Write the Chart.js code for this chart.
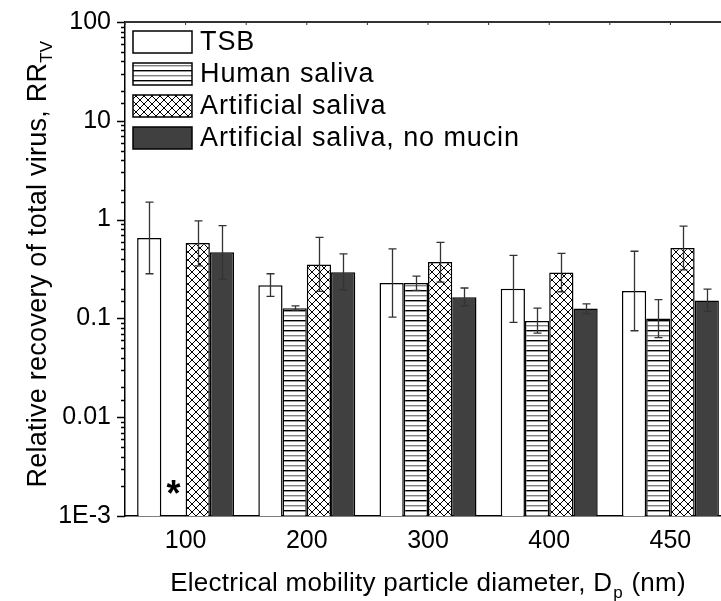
<!DOCTYPE html>
<html>
<head>
<meta charset="utf-8">
<script src="https://cdn.jsdelivr.net/npm/chart.js@4"></script>
<style>
  html, body { margin: 0; padding: 0; background: #fff; overflow: hidden; }
  #wrap { width: 740px; height: 601px; position: relative; }
</style>
</head>
<body>
<div id="wrap"><canvas id="rrChart"></canvas></div>
<script>
const categories = ['100', '200', '300', '400', '450'];

const tsb = [0.65, 0.217, 0.228, 0.2, 0.189];
const tsbLow = [0.283, 0.167, 0.103, 0.091, 0.075];
const tsbHigh = [1.5, 0.283, 0.505, 0.435, 0.478];

const humanSaliva = [null, 0.127, 0.228, 0.094, 0.1];
const humanLow = [null, 0.121, 0.192, 0.071, 0.064];
const humanHigh = [null, 0.134, 0.268, 0.127, 0.155];

const artificialSaliva = [0.58, 0.351, 0.373, 0.292, 0.517];
const artificialLow = [0.34, 0.188, 0.233, 0.186, 0.31];
const artificialHigh = [0.97, 0.66, 0.589, 0.456, 0.86];

const noMucin = [0.467, 0.294, 0.164, 0.126, 0.152];
const noMucinLow = [0.25, 0.194, 0.134, 0.112, 0.118];
const noMucinHigh = [0.87, 0.45, 0.203, 0.14, 0.198];

const yTickValues = [100, 10, 1, 0.1, 0.01, 0.001];
const yTickLabels = ['100', '10', '1', '0.1', '0.01', '1E-3'];

const FONT = "'Liberation Sans', Arial, sans-serif";

function makePattern(draw, w, h) {
    const c = document.createElement('canvas');
    c.width = w;
    c.height = h;
    const g = c.getContext('2d');
    g.fillStyle = '#fff';
    g.fillRect(0, 0, w, h);
    draw(g);
    return g.createPattern(c, 'repeat');
}

const stripes = makePattern(g => {
    g.fillStyle = '#000';
    g.fillRect(0, 0, 10, 1.4);
    g.fillStyle = '#808080';
    g.fillRect(0, 5, 10, 1.4);
}, 10, 10);

const crossHatch = makePattern(g => {
    g.strokeStyle = '#000';
    g.lineWidth = 1;
    g.beginPath();
    g.moveTo(0, 0); g.lineTo(8, 8);
    g.moveTo(8, 0); g.lineTo(0, 8);
    g.moveTo(-1, 7); g.lineTo(1, 9);
    g.moveTo(7, -1); g.lineTo(9, 1);
    g.stroke();
}, 8, 8);

const series = [
    { label: 'TSB', data: tsb, low: tsbLow, high: tsbHigh, fill: '#fff' },
    { label: 'Human saliva', data: humanSaliva, low: humanLow, high: humanHigh, fill: stripes },
    { label: 'Artificial saliva', data: artificialSaliva, low: artificialLow, high: artificialHigh, fill: crossHatch },
    { label: 'Artificial saliva, no mucin', data: noMucin, low: noMucinLow, high: noMucinHigh, fill: '#404040' }
];

function isDecade(v) {
    const l = Math.log10(v);
    return Math.abs(l - Math.round(l)) < 1e-6;
}

const decorPlugin = {
    id: 'decor',
    afterDatasetsDraw(chart) {
        const ctx = chart.ctx;
        const y = chart.scales.y;
        // error bars
        ctx.save();
        ctx.strokeStyle = '#333';
        ctx.lineWidth = 1.3;
        chart.data.datasets.forEach((ds, i) => {
            const meta = chart.getDatasetMeta(i);
            ds.data.forEach((v, j) => {
                if (v == null) return;
                const x = Math.round(meta.data[j].x) + 0.5;
                const yh = y.getPixelForValue(ds.high[j]);
                const yl = y.getPixelForValue(ds.low[j]);
                ctx.beginPath();
                ctx.moveTo(x, yh); ctx.lineTo(x, yl);
                ctx.moveTo(x - 4, yh); ctx.lineTo(x + 4, yh);
                ctx.moveTo(x - 4, yl); ctx.lineTo(x + 4, yl);
                ctx.stroke();
            });
        });
        ctx.restore();
    },
    afterDraw(chart) {
        const ctx = chart.ctx;
        const area = chart.chartArea;
        const y = chart.scales.y;
        const x = chart.scales.x;
        ctx.save();

        // y ticks (outward): long at decades, short otherwise
        ctx.strokeStyle = '#000';
        ctx.lineWidth = 1.5;
        y.ticks.forEach(t => {
            const py = Math.round(y.getPixelForValue(t.value)) + 0.5;
            const len = isDecade(t.value) ? 8 : 4;
            ctx.beginPath();
            ctx.moveTo(area.left - len, py);
            ctx.lineTo(area.left, py);
            ctx.stroke();
        });

        // top frame with small inward ticks
        ctx.strokeStyle = '#333';
        ctx.lineWidth = 2;
        ctx.beginPath();
        ctx.moveTo(area.left, area.top);
        ctx.lineTo(area.right, area.top);
        ctx.stroke();
        ctx.lineWidth = 1;
        const step = x.getPixelForValue(1) - x.getPixelForValue(0);
        categories.forEach((c, i) => {
            const cx = x.getPixelForValue(i);
            [cx - step / 2, cx].forEach(px => {
                ctx.beginPath();
                ctx.moveTo(px, area.top);
                ctx.lineTo(px, area.top + 3);
                ctx.stroke();
            });
        });

        // asterisk for missing human saliva at 100 nm
        const m0 = chart.getDatasetMeta(0).data[0];
        ctx.fillStyle = '#000';
        ctx.font = 'bold 36px ' + FONT;
        ctx.textAlign = 'center';
        ctx.textBaseline = 'middle';
        ctx.fillText('*', m0.x + m0.width, area.bottom - 20);

        // legend
        ctx.font = '27px ' + FONT;
        ctx.letterSpacing = '0.9px';
        ctx.textAlign = 'left';
        ctx.textBaseline = 'middle';
        chart.data.datasets.forEach((ds, i) => {
            const cy = 42 + i * 32;
            ctx.fillStyle = ds.backgroundColor;
            ctx.fillRect(133, cy - 11, 59, 22);
            ctx.strokeStyle = '#000';
            ctx.lineWidth = 1.5;
            ctx.strokeRect(133, cy - 11, 59, 22);
            ctx.fillStyle = '#000';
            ctx.fillText(ds.label, 200, cy + 1);
        });
        ctx.letterSpacing = '0.25px';

        // x axis title with subscript
        const xMain = 'Electrical mobility particle diameter, D';
        const xSub = 'p';
        const xTail = ' (nm)';
        ctx.font = '26px ' + FONT;
        const w1 = ctx.measureText(xMain).width;
        const w3 = ctx.measureText(xTail).width;
        ctx.font = '17px ' + FONT;
        const w2 = ctx.measureText(xSub).width + 2;
        let sx = 428 - (w1 + w2 + w3) / 2;
        const by = 591;
        ctx.textBaseline = 'alphabetic';
        ctx.font = '26px ' + FONT;
        ctx.fillText(xMain, sx, by);
        ctx.font = '17px ' + FONT;
        ctx.fillText(xSub, sx + w1 + 1, by + 7);
        ctx.font = '26px ' + FONT;
        ctx.fillText(xTail, sx + w1 + w2, by);

        // y axis title with subscript (rotated)
        const yMain = 'Relative recovery of total virus, RR';
        const ySub = 'TV';
        ctx.translate(46, 264);
        ctx.rotate(-Math.PI / 2);
        ctx.font = '27px ' + FONT;
        const v1 = ctx.measureText(yMain).width;
        ctx.font = '17px ' + FONT;
        const v2 = ctx.measureText(ySub).width;
        const ty = -(v1 + v2) / 2;
        ctx.font = '27px ' + FONT;
        ctx.fillText(yMain, ty, 0);
        ctx.font = '17px ' + FONT;
        ctx.fillText(ySub, ty + v1, 6);

        ctx.restore();
    }
};

function drawChart() {
    const ctx = document.getElementById('rrChart').getContext('2d');
    new Chart(ctx, {
        type: 'bar',
        data: {
            labels: categories,
            datasets: series.map(s => ({
                label: s.label,
                data: s.data,
                low: s.low,
                high: s.high,
                backgroundColor: s.fill,
                borderColor: '#000',
                borderWidth: 1.5,
                categoryPercentage: 0.8,
                barPercentage: 1
            }))
        },
        options: {
            responsive: true,
            maintainAspectRatio: false,
            animation: false,
            layout: { padding: { left: 0, right: 9, top: 22, bottom: 0 } },
            plugins: {
                legend: { display: false },
                tooltip: { enabled: false }
            },
            scales: {
                x: {
                    type: 'category',
                    grid: { display: false, drawTicks: false },
                    border: { display: true, color: '#000', width: 1.5 },
                    ticks: {
                        color: '#000',
                        padding: 10,
                        font: { family: FONT, size: 25 }
                    },
                    afterFit: s => { s.height = 85; s.paddingLeft = 0; s.paddingRight = 0; }
                },
                y: {
                    type: 'logarithmic',
                    min: 0.001,
                    max: 100,
                    grid: { display: true, drawOnChartArea: false, drawTicks: false },
                    border: { display: true, color: '#000', width: 1.5 },
                    ticks: {
                        color: '#000',
                        padding: 14,
                        autoSkip: false,
                        font: { family: FONT, size: 25 },
                        callback: value => {
                            const idx = yTickValues.findIndex(t => Math.abs(Math.log10(t) - Math.log10(value)) < 1e-6);
                            return idx >= 0 ? yTickLabels[idx] : '';
                        }
                    },
                    afterFit: s => { s.width = 125; s.paddingTop = 0; s.paddingBottom = 0; }
                }
            }
        },
        plugins: [decorPlugin]
    });
}

document.addEventListener('DOMContentLoaded', drawChart);
</script>
</body>
</html>
